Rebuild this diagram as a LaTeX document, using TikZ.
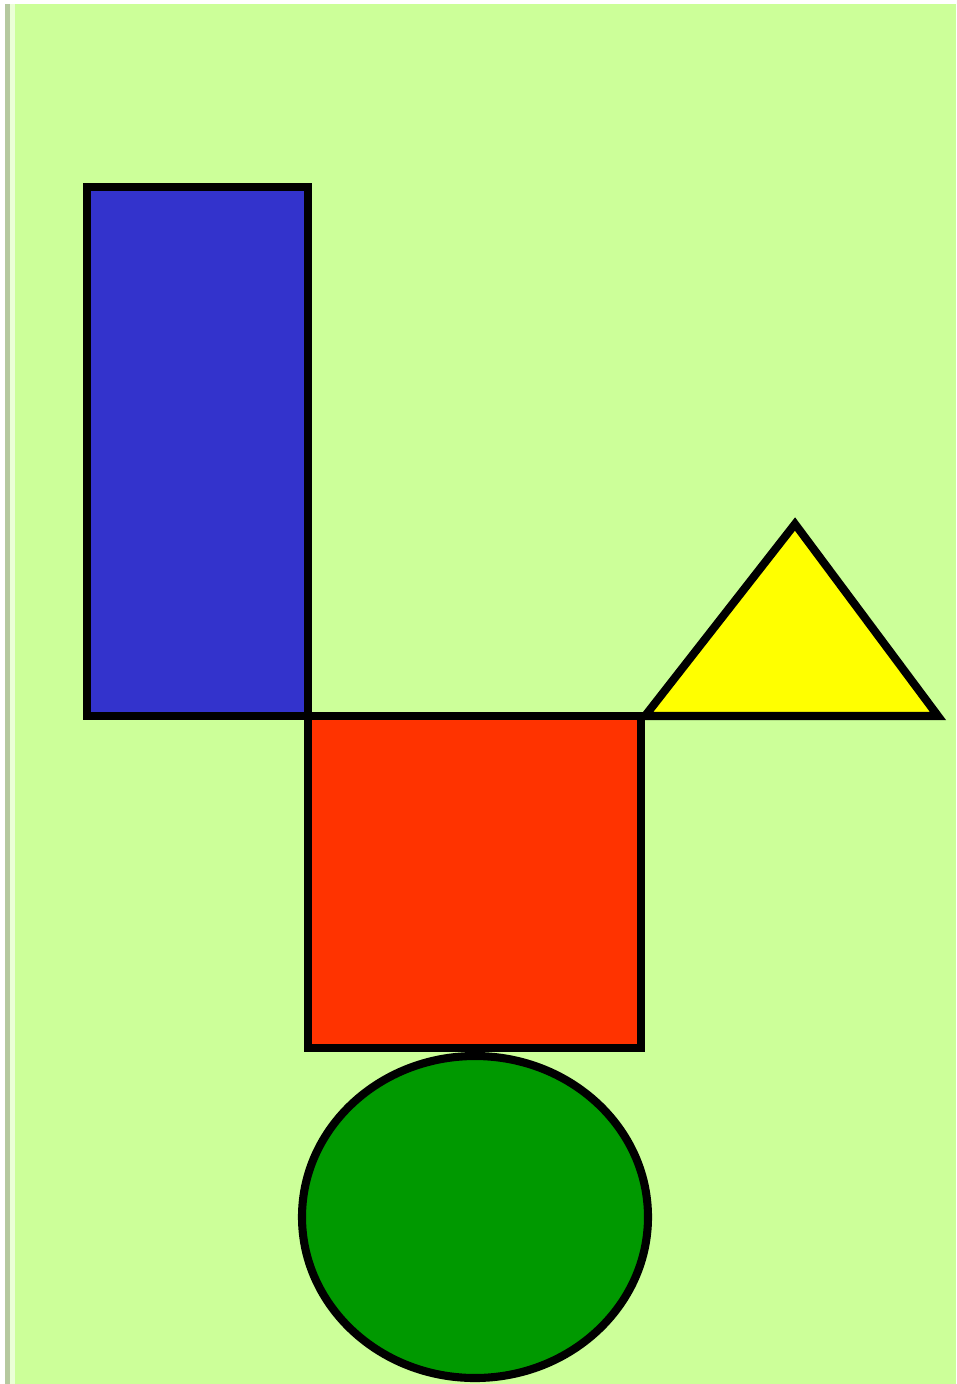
\documentclass[tikz,border=0pt]{standalone}
\definecolor{bg}{HTML}{CCFF99}
\definecolor{strip}{HTML}{B5C99F}
\definecolor{bluefill}{HTML}{3333CC}
\definecolor{redfill}{HTML}{FF3300}
\definecolor{yellowfill}{HTML}{FFFF00}
\definecolor{greenfill}{HTML}{009900}
\tikzset{shapeline/.style={draw=black,line width=2.3pt,line join=miter}}
\begin{document}
\begin{tikzpicture}[x=0.01cm,y=-0.01cm]
\useasboundingbox (0,0) rectangle (956,1384);
\fill[white] (0,0) rectangle (956,1384);
\fill[bg] (5,4) rectangle (956,1384);
\fill[strip] (5,4) rectangle (10,1384);
\fill[white!60!bg] (10,4) rectangle (15,1384);
% blue rectangle
\path[shapeline,fill=bluefill] (87,187) rectangle (308,716);
% red square
\path[shapeline,fill=redfill] (308,716) rectangle (641,1048);
% yellow triangle
\path[shapeline,fill=yellowfill] (645,716) -- (795,524) -- (938,716) -- cycle;
% green circle
\path[shapeline,fill=greenfill] (475,1217) ellipse [x radius=173, y radius=161];
\end{tikzpicture}
\end{document}
